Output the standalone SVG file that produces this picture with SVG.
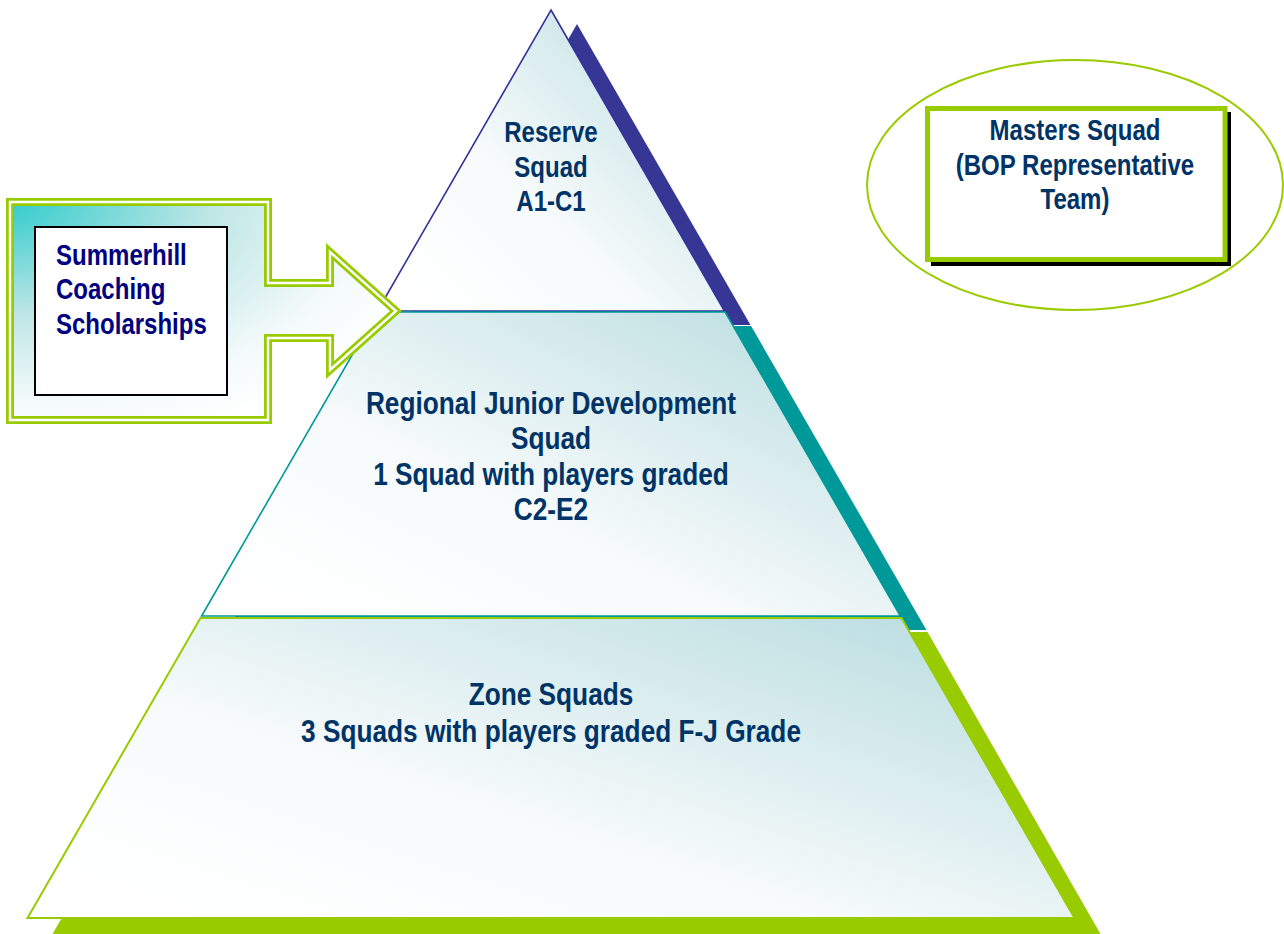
<svg xmlns="http://www.w3.org/2000/svg" width="1284" height="934" viewBox="0 0 1284 934">
<defs>
<linearGradient id="pyr" x1="0.05" y1="0.9" x2="0.95" y2="0.1">
<stop offset="0" stop-color="#FFFFFF"/>
<stop offset="0.4" stop-color="#F6FAFB"/>
<stop offset="1" stop-color="#BCDEE1"/>
</linearGradient>
<radialGradient id="callout" cx="0" cy="0" r="1.15" fx="0" fy="0">
<stop offset="0" stop-color="#33CCCC"/>
<stop offset="0.45" stop-color="#BFE6E6"/>
<stop offset="0.8" stop-color="#F4FAFB"/>
<stop offset="1" stop-color="#FFFFFF"/>
</radialGradient>
<style>
.t{font-family:"Liberation Sans",Arial,sans-serif;font-weight:bold;fill:#003366;text-anchor:middle}
.s22{font-size:29.3px}
.s24{font-size:32px}
.sum{font-family:"Liberation Sans",Arial,sans-serif;font-weight:bold;fill:#000080;font-size:29.3px}
.pyr{fill:url(#pyr)}
</style>
</defs>
<rect width="1284" height="934" fill="#FFFFFF"/>

<g id="reserve-squad">
<path d="M577,24 L750.5,325 L403.5,325 Z" fill="#363695"/>
<path class="pyr" d="M551,10 L724.5,311 L377.5,311 Z" stroke="#333399" stroke-width="1.6"/>
<g transform="translate(551,0) scale(0.82,1)">
<text class="t s22" x="0" y="142.5">Reserve</text>
<text class="t s22" x="0" y="177">Squad</text>
<text class="t s22" x="0" y="211.5">A1-C1</text>
</g>
</g>

<g id="regional-junior">
<path d="M402.9,326 L751.1,326 L926.4,630 L227.6,630 Z" fill="#009999"/>
<path class="pyr" d="M376.9,312 L725.1,312 L900.4,616 L201.6,616 Z" stroke="#009999" stroke-width="1.6"/>
<g transform="translate(551,0) scale(0.82,1)">
<text class="t s24" x="0" y="414">Regional Junior Development</text>
<text class="t s24" x="0" y="449">Squad</text>
<text class="t s24" x="0" y="485">1 Squad with players graded</text>
<text class="t s24" x="0" y="520">C2-E2</text>
</g>
</g>

<g id="zone-squads">
<path d="M226.5,632 L927.5,632 L1100.5,934 L52.5,934 Z" fill="#99CC00"/>
<path class="pyr" d="M200.5,618 L901.5,618 L1074.5,918 L27.5,918 Z" stroke="#99CC00" stroke-width="2"/>
<g transform="translate(551,0) scale(0.82,1)">
<text class="t s24" x="0" y="705">Zone Squads</text>
<text class="t s24" x="0" y="742">3 Squads with players graded F-J Grade</text>
</g>
</g>

<g id="summerhill">
<path d="M10,202 H268 V283 H330 V252 L396,311 L330,370 V338 H268 V420 H10 Z" fill="url(#callout)" stroke="#99CC00" stroke-width="8" stroke-linejoin="miter"/>
<path d="M10,202 H268 V283 H330 V252 L396,311 L330,370 V338 H268 V420 H10 Z" fill="none" stroke="#FFFFFF" stroke-width="2.4" stroke-linejoin="miter"/>
<rect x="35" y="227" width="192" height="168" fill="#FFFFFF" stroke="#000000" stroke-width="2"/>
<g transform="translate(56,0) scale(0.82,1)">
<text class="sum" x="0" y="265">Summerhill</text>
<text class="sum" x="0" y="299.5">Coaching</text>
<text class="sum" x="0" y="334">Scholarships</text>
</g>
</g>

<g id="masters-squad">
<ellipse cx="1075" cy="185" rx="208" ry="125" fill="#FFFFFF" stroke="#99CC00" stroke-width="2"/>
<rect x="931" y="112" width="300" height="154" fill="#000000"/>
<rect x="927.5" y="108.5" width="297.5" height="151" fill="#FFFFFF" stroke="#99CC00" stroke-width="5"/>
<g transform="translate(1075,0) scale(0.82,1)">
<text class="t s22" x="0" y="140.5">Masters Squad</text>
<text class="t s22" x="0" y="175">(BOP Representative</text>
<text class="t s22" x="0" y="209.5">Team)</text>
</g>
</g>

<g id="connectors"></g>
</svg>
